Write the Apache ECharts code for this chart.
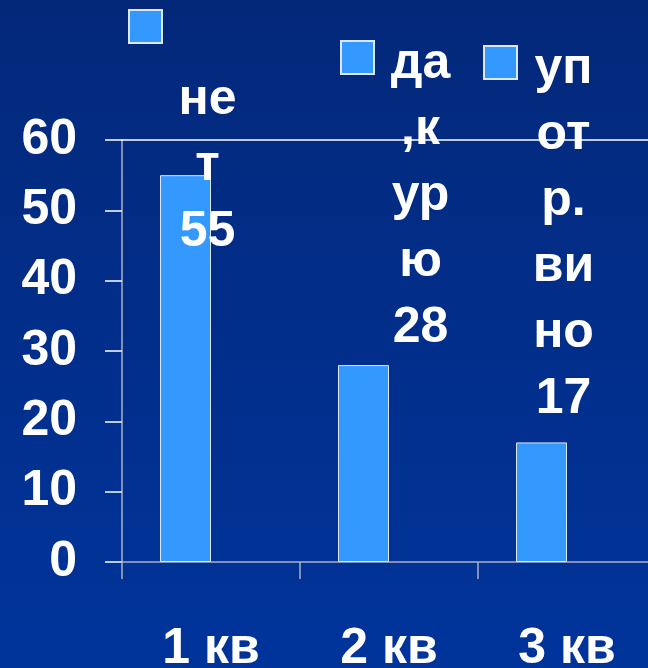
<!DOCTYPE html>
<html>
<head>
<meta charset="utf-8">
<script src="https://cdn.jsdelivr.net/npm/echarts@6/dist/echarts.min.js"></script>
<style>
html,body{margin:0;padding:0;background:#002a80;overflow:hidden;}
#chart{width:664px;height:668px;}
</style>
</head>
<body>
<div id="chart"></div>
<script>
// ---- data ----
const categories = ['1 кв', '2 кв', '3 кв'];
const seriesNames = ['нет', 'да,курю', 'употр. вино'];
const values = [55, 28, 17];
const labelLines = [['не', 'т'], ['да', ',к', 'ур', 'ю'], ['уп', 'от', 'р.', 'ви', 'но']];
const yTicks = { min: 0, max: 60, interval: 10 };

// ---- styles ----
const FONT = '"Liberation Sans", Arial, sans-serif';
const barColor = '#3399ff';
const labelOffsets = [[22, 90], [57, -4], [22, -10]];
const legendPos = [[128, 9], [340, 40], [483, 45]];

const chart = echarts.init(document.getElementById('chart'), null, { renderer: 'canvas' });

const series = seriesNames.map((name, i) => ({
  name: name,
  type: 'bar',
  stack: 'all',
  barWidth: 51,
  barGap: '0%',
  data: categories.map((c, j) => (j === i ? values[i] : '-')),
  itemStyle: { color: barColor, borderColor: '#dfe6f5', borderWidth: 1 },
  label: {
    show: true,
    position: 'top',
    distance: 0,
    offset: labelOffsets[i],
    color: '#ffffff',
    fontFamily: FONT,
    fontWeight: 'bold',
    fontSize: 50,
    lineHeight: 66,
    align: 'center',
    formatter: (p) => labelLines[i].concat([String(p.value)]).join('\n')
  },
  emphasis: { disabled: true }
}));
// empty companion slot so the bar sits on the left half of each category
series.push({
  name: '_gap',
  type: 'bar',
  barWidth: 51,
  barGap: '0%',
  data: categories.map(() => '-'),
  silent: true
});

const legends = seriesNames.map((name, i) => ({
  data: [name],
  left: legendPos[i][0],
  top: legendPos[i][1],
  padding: 0,
  itemWidth: 33,
  itemHeight: 33,
  itemGap: 0,
  icon: 'rect',
  selectedMode: false,
  formatter: () => '',
  textStyle: { fontSize: 1, color: 'rgba(0,0,0,0)', padding: 0 }
}));

chart.setOption({
  animation: false,
  backgroundColor: {
    type: 'linear', x: 0, y: 0, x2: 0, y2: 1,
    colorStops: [{ offset: 0, color: '#03287a' }, { offset: 1, color: '#00349b' }]
  },
  legend: legends,
  grid: { left: 122, top: 140, right: 8, bottom: 106, containLabel: false, outerBoundsMode: 'none' },
  xAxis: [
    {
      type: 'category',
      data: categories,
      boundaryGap: true,
      axisLine: { show: true, lineStyle: { color: '#a9b1c8', width: 1.5 } },
      axisTick: { show: true, length: 17, alignWithLabel: false, lineStyle: { color: '#a9b1c8', width: 1.5 } },
      axisLabel: { color: '#ffffff', fontFamily: FONT, fontWeight: 'bold', fontSize: 50, margin: 62 }
    },
    {
      type: 'category',
      position: 'top',
      data: categories,
      axisLine: { show: true, lineStyle: { color: '#ffffff', width: 1.5 } },
      axisTick: { show: false },
      axisLabel: { show: false }
    }
  ],
  yAxis: {
    type: 'value',
    min: yTicks.min,
    max: yTicks.max,
    interval: yTicks.interval,
    axisLine: { show: true, lineStyle: { color: '#a9b1c8', width: 1.5 } },
    axisTick: { show: true, length: 17, lineStyle: { color: '#ffffff', width: 1.5 } },
    splitLine: { show: false },
    axisLabel: { color: '#ffffff', fontFamily: FONT, fontWeight: 'bold', fontSize: 50, margin: 45, padding: [8, 0, 0, 0] }
  },
  series: series
});
</script>
</body>
</html>
